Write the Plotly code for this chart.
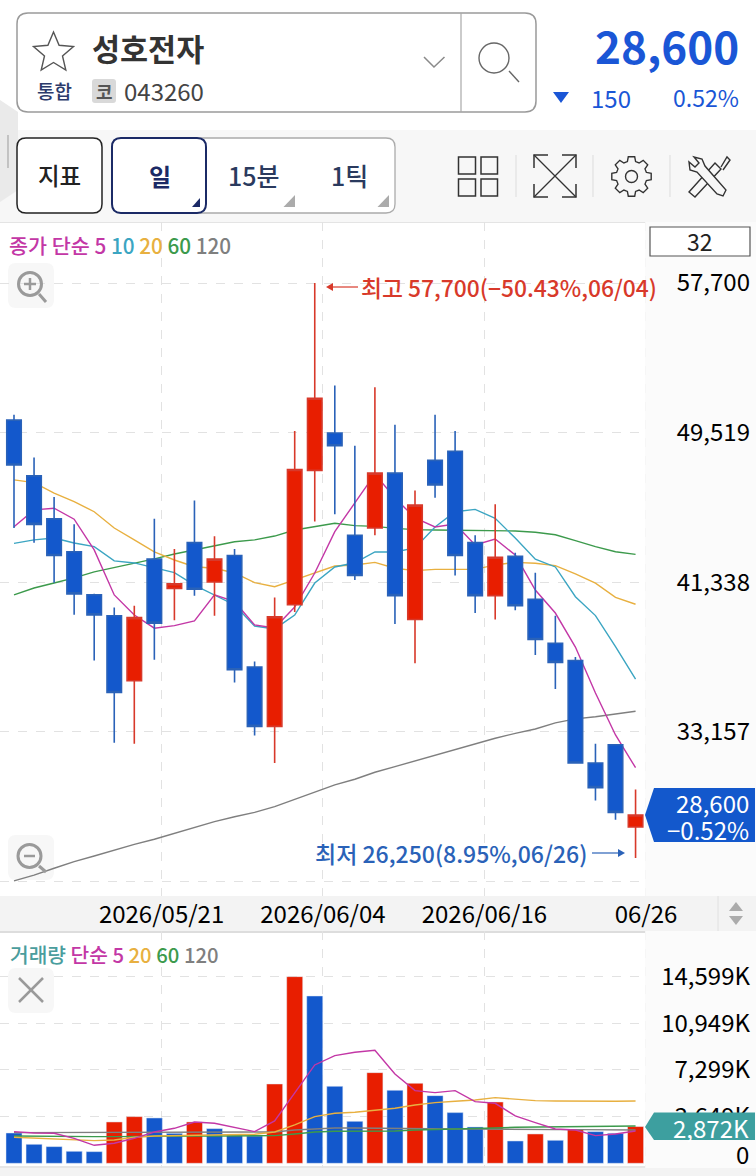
import math
import plotly.graph_objects as go

# --- Data ---
sessions = list(range(32))
open_px = [50200, 47150, 44800, 43000, 40650, 39500, 35950, 42600, 41000, 43500, 41350, 42800, 36700, 33450, 40100, 47450,
           49500, 43900, 44300, 47300, 39300, 48000, 48500, 43500, 40600, 42750, 40400, 38000, 37050, 31450, 32450, 27950]
close_px = [47750, 44500, 42800, 40700, 39550, 35300, 39400, 39100, 41250, 40950, 42600, 36550, 33450, 39450, 47500, 51400,
            48800, 41700, 47300, 40600, 45550, 46650, 42800, 40600, 42700, 40050, 38200, 36950, 31450, 30100, 28750, 28600]
high_px = [50500, 48150, 46000, 44500, 40700, 39950, 40050, 44800, 43150, 45800, 43850, 43150, 37000, 40500, 49600, 57700,
           52100, 48800, 52000, 49950, 46350, 50500, 49600, 43900, 45600, 42950, 41850, 39500, 37250, 32500, 32450, 30000]
low_px = [44300, 43500, 41300, 39550, 37050, 32550, 32500, 37100, 39250, 40600, 39500, 35850, 32950, 31450, 39700, 44650,
          45050, 41450, 43900, 39050, 36900, 45950, 41700, 39650, 39300, 39800, 37350, 35500, 31450, 29400, 28350, 26250]

ma5 = [44370, 45290, 45380, 44780, 43100, 40640, 39540, 38820, 38960, 39220, 40640, 40270, 39000, 38830, 39980, 41840,
       44100, 45670, 47250, 45940, 44850, 44360, 44520, 43370, 43700, 42820, 40910, 39650, 37790, 35280, 32980, 31190]
ma10 = [43460, 43650, 43750, 43480, 43280, 42500, 42390, 42110, 41860, 41180, 40640, 40090, 38940, 38780, 39540, 41290,
        42170, 42400, 42990, 42990, 43210, 44360, 45190, 45320, 44830, 43750, 42590, 42170, 40540, 39510, 37810, 36030]
ma20 = [46930, 46780, 46210, 45740, 45190, 44300, 43650, 43000, 42550, 42180, 42100, 41840, 41310, 41090, 41460, 41840,
        42220, 42280, 42420, 42100, 41970, 42040, 42040, 42040, 42280, 42420, 42370, 42240, 41790, 41280, 40510, 40130]
ma60 = [40640, 41020, 41290, 41570, 41900, 42130, 42390, 42610, 42880, 43100, 43330, 43550, 43650, 43860, 44190, 44370,
        44560, 44430, 44390, 44280, 44210, 44190, 44180, 44180, 44190, 44140, 44070, 43930, 43610, 43280, 43000, 42860]
ma120 = [25000, 25320, 25690, 26050, 26360, 26690, 27000, 27280, 27600, 27930, 28240, 28510, 28750, 29060, 29460, 29820,
         30250, 30560, 30940, 31250, 31560, 31890, 32160, 32470, 32800, 33070, 33310, 33640, 33860, 33980, 34130, 34280]

volume = [2372, 1486, 1304, 939, 912, 3233, 3650, 3546, 2346, 3233, 2711, 2216, 2138, 6205, 14599, 13087,
          6022, 3285, 7091, 5709, 6257, 5292, 3963, 2842, 4797, 1747, 2294, 1799, 2659, 2477, 2346, 2872]
volume_up = [0, 0, 0, 0, 0, 1, 1, 0, 0, 1, 0, 0, 0, 1, 1, 0, 0, 0, 1, 0, 1, 0, 0, 0, 1, 0, 1, 0, 1, 0, 0, 1]
vol_ma5 = [2477, 2372, 2346, 1955, 1408, 1564, 1955, 2451, 2737, 3233, 3128, 2816, 2477, 3311, 5475, 7691,
           8421, 8681, 8838, 6987, 5683, 5527, 5683, 4823, 4693, 3702, 3181, 2685, 2607, 2164, 2294, 2529]
vol_ma20 = [2033, 1955, 1903, 1825, 1773, 1825, 2033, 2138, 2164, 2138, 2190, 2190, 2268, 2451, 2998, 3650,
            3911, 3989, 4171, 4302, 4562, 4745, 4849, 4953, 5136, 5032, 4901, 4875, 4849, 4823, 4849, 4875]
vol_ma60 = [2138, 2112, 2086, 2086, 2086, 2086, 2112, 2112, 2138, 2138, 2138, 2138, 2138, 2164, 2294, 2451,
            2503, 2503, 2503, 2529, 2607, 2633, 2659, 2685, 2763, 2816, 2842, 2868, 2868, 2894, 2894, 2920]
vol_ma120 = [2398, 2398, 2398, 2398, 2398, 2398, 2398, 2398, 2398, 2398, 2398, 2398, 2398, 2451, 2607, 2685,
             2763, 2763, 2737, 2711, 2685, 2685, 2685, 2685, 2659, 2659, 2659, 2633, 2633, 2633, 2607, 2607]

price_ticks = [57700, 49519, 41338, 33157, 24976]
price_tick_labels = ['57,700', '49,519', '41,338', '33,157', '24,976']
vol_ticks = [14599, 10949, 7299, 3649]
vol_tick_labels = ['14,599K', '10,949K', '7,299K', '3,649K']
date_labels = ['2026/05/21', '2026/06/04', '2026/06/16', '06/26']

# --- Style ---
W, H = 756, 1176
FONT = 'Noto Sans CJK KR'
BLUE, RED = '#1358CC', '#E81E00'
WICK_BLUE, WICK_RED = '#2A62B8', '#D8392A'
MAGENTA, CYAN, ORANGE, GREEN, GRAY = '#C337A6', '#3BA5C2', '#E8B040', '#3C9A4C', '#7F7F7F'
GRID = '#E2E2E2'
NAVY = '#1B2A66'
ICON = '#333333'

DATE_TICKS = [7.36, 15.41, 23.46, 31.52]
X_RANGE = [-0.698, 37.007]
PRICE_RANGE = [24174, 61036]
VOL_RANGE = [-368, 18168]

fig = go.Figure()

# --- Price panel: averages first, candles on an overlay axis so they sit on top ---
for name, vals, col in [('120', ma120, GRAY), ('60', ma60, GREEN), ('20', ma20, ORANGE), ('10', ma10, CYAN), ('5', ma5, MAGENTA)]:
    fig.add_trace(go.Scatter(x=sessions, y=vals, mode='lines', name=name,
                             line=dict(color=col, width=1.4), showlegend=False, xaxis='x', yaxis='y'))

fig.add_trace(go.Candlestick(
    x=sessions, open=open_px, high=high_px, low=low_px, close=close_px,
    increasing=dict(line=dict(color=WICK_RED, width=1.6), fillcolor=RED),
    decreasing=dict(line=dict(color=WICK_BLUE, width=1.6), fillcolor=BLUE),
    whiskerwidth=0, showlegend=False, xaxis='x', yaxis='y3'))

# --- Volume panel ---
fig.add_trace(go.Bar(x=sessions, y=volume, width=0.8, marker=dict(color=[RED if u else BLUE for u in volume_up]),
                     showlegend=False, xaxis='x2', yaxis='y2'))
for name, vals, col in [('120', vol_ma120, GRAY), ('60', vol_ma60, GREEN), ('20', vol_ma20, ORANGE), ('5', vol_ma5, MAGENTA)]:
    fig.add_trace(go.Scatter(x=sessions, y=vals, mode='lines', name=name,
                             line=dict(color=col, width=1.4), showlegend=False, xaxis='x2', yaxis='y2'))


# --- UI helpers, all in screen pixels ---
def px(x):
    return x / W


def py(y):
    return 1 - y / H


shapes = []
notes = []


def rect(x0, y0, x1, y1, fill=None, line=None, lw=1, layer='above'):
    shapes.append(dict(type='rect', xref='paper', yref='paper', x0=px(x0), x1=px(x1), y0=py(y0), y1=py(y1),
                       fillcolor=fill, line=dict(color=line, width=lw if line else 0), layer=layer))


def path(d, fill=None, line=None, lw=1, layer='above'):
    out, is_x = [], True
    for tok in d.split():
        if tok.isalpha():
            out.append(tok)
        else:
            out.append(f'{px(float(tok)) if is_x else py(float(tok)):.5f}')
            is_x = not is_x
    shapes.append(dict(type='path', xref='paper', yref='paper', path=' '.join(out),
                       fillcolor=fill, line=dict(color=line, width=lw if line else 0), layer=layer))


def rrect(x0, y0, x1, y1, r, **kw):
    path(f'M {x0 + r} {y0} L {x1 - r} {y0} Q {x1} {y0} {x1} {y0 + r} L {x1} {y1 - r} Q {x1} {y1} {x1 - r} {y1} '
         f'L {x0 + r} {y1} Q {x0} {y1} {x0} {y1 - r} L {x0} {y0 + r} Q {x0} {y0} {x0 + r} {y0} Z', **kw)


def circle(cx, cy, r, line, lw=1.5, fill=None):
    shapes.append(dict(type='circle', xref='paper', yref='paper', x0=px(cx - r), x1=px(cx + r), y0=py(cy + r), y1=py(cy - r),
                       line=dict(color=line, width=lw), fillcolor=fill, layer='above'))


def label(x, y, s, size, color, anchor='left', weight=400):
    notes.append(dict(xref='paper', yref='paper', x=px(x), y=py(y), text=s, showarrow=False, xanchor=anchor, yanchor='middle',
                      font=dict(family=FONT, size=size, color=color, weight=weight), borderpad=0, borderwidth=0))


# panel backgrounds
rect(0, 130, W, 222, fill='#F7F7F7', layer='below')
rect(0, 896, W, 931, fill='#F3F3F3', layer='below')
rect(0, 1168, W, H, fill='#F3F3F3', layer='below')
rect(0, 222, W, 223, fill='#E4E4E4', layer='below')
rect(0, 931, W, 933, fill='#DDDDDD', layer='below')
rect(0, 1166, W, 1168, fill='#E6E6E6', layer='below')

# right margin of both panels hides the grid but not the traces
shapes.append(dict(type='rect', xref='x', yref='y', x0=DATE_TICKS[3] - 0.04, x1=X_RANGE[1], y0=PRICE_RANGE[0], y1=PRICE_RANGE[1],
                   fillcolor='#FBFBFB', line=dict(width=0), layer='between'))
shapes.append(dict(type='rect', xref='x2', yref='y2', x0=DATE_TICKS[3] - 0.04, x1=X_RANGE[1], y0=VOL_RANGE[0], y1=VOL_RANGE[1],
                   fillcolor='#FBFBFB', line=dict(width=0), layer='between'))

# left drawer handle
path('M 0 100 L 18 112 L 18 190 L 0 202 Z', fill='#EAEAEA')
path('M 8 135 L 8 168', line='#B5B5B5', lw=1.5)

# search box
rrect(17, 13, 536, 112, 11, line='#9A9A9A', lw=1.5, fill='#FFFFFF')
path('M 461 13 L 461 112', line='#A8A8A8', lw=1.2)
star = []
for i in range(10):
    rad = 21 if i % 2 == 0 else 9.5
    a = -math.pi / 2 + i * math.pi / 5
    star.append(f'{"M" if i == 0 else "L"} {53.5 + rad * math.cos(a):.1f} {53 + rad * math.sin(a):.1f}')
path(' '.join(star) + ' Z', line='#555555', lw=1.4)
label(92, 48, '성호전자', 30.5, '#333333', weight=700)
label(37, 90, '통합', 19, '#2B3A6B', weight=500)
rrect(92, 79, 116, 103, 3, fill='#D9D9D9')
label(104, 91, '코', 18, '#555555', anchor='center', weight=700)
label(124, 91, '043260', 24, '#444444')
path('M 424 57 L 434 67 L 444.5 57', line='#8A8A8A', lw=1.5)
circle(494, 58, 15, '#666666', 1.4)
path('M 509 71 L 519 82', line='#666666', lw=1.4)

# quote
label(739, 45, '28,600', 44, '#1A56D6', anchor='right', weight=700)
path('M 553 92 L 569 92 L 561 103 Z', fill='#1A56D6')
label(631, 97, '150', 24, '#1A56D6', anchor='right')
label(739, 97, '0.52%', 23, '#1A56D6', anchor='right')

# toolbar buttons
rrect(17, 138, 102, 213, 9, line='#222222', lw=1.5, fill='#FFFFFF')
label(59.5, 175, '지표', 23.5, '#222222', anchor='center', weight=500)
rrect(112, 138, 395, 213, 9, line='#ABABAB', lw=1.3, fill='#FFFFFF')
rrect(112, 138, 206, 213, 9, line=NAVY, lw=2, fill='#FFFFFF')
label(160, 175, '일', 24, NAVY, anchor='center', weight=700)
label(254, 175, '15분', 25, '#2A3A5E', anchor='center', weight=500)
label(349, 175, '1틱', 25, '#2A3A5E', anchor='center', weight=500)
path('M 200 198 L 200 207 L 192 207 Z', fill=NAVY)
path('M 295 195 L 295 207 L 283.5 207 Z', fill='#ABABAB')
path('M 389 195 L 389 207 L 377.5 207 Z', fill='#ABABAB')

# toolbar icons
for x0, x1 in [(458.5, 475.5), (481, 497.5)]:
    for y0, y1 in [(157, 174), (179, 196)]:
        rect(x0, y0, x1, y1, line=ICON, lw=1.5)
for x in [516, 593, 670]:
    path(f'M {x} 155 L {x} 197', line='#DDDDDD', lw=1)
path('M 534 155 L 576 197 M 576 155 L 534 197', line=ICON, lw=1.3)
path('M 534 168 L 534 155 L 548 155 M 562 155 L 576 155 L 576 168 M 576 184 L 576 197 L 562 197 M 548 197 L 534 197 L 534 184',
     line=ICON, lw=1.5)
gear = []
for i in range(8):
    a = i * math.pi / 4
    for off, rad in [(-0.27, 15.5), (-0.16, 20), (0.16, 20), (0.27, 15.5)]:
        gear.append((631.5 + rad * math.cos(a + off), 176.5 + rad * math.sin(a + off)))
path('M ' + ' L '.join(f'{x:.1f} {y:.1f}' for x, y in gear) + ' Z', line=ICON, lw=1.4)
circle(631.5, 176.5, 6, ICON, 1.4)
path('M 689 192 L 715 163 L 721 169 L 695 197 Z', line=ICON, lw=1.4)
path('M 721 167 L 727 157 L 730 160 L 723 170', line=ICON, lw=1.4)
path('M 726 190 L 723 196 L 717 194 L 697 172 L 690 170 L 689 162 L 695 167 L 699 163 L 694 157 L 702 159 L 705 166 Z',
     line=ICON, lw=1.4, fill='#F7F7F7')

# price panel legend and extreme labels
label(9, 245, f'<span style="color:{MAGENTA}">종가 단순 5 </span><span style="color:{CYAN}">10 </span>'
              f'<span style="color:{ORANGE}">20 </span><span style="color:{GREEN}">60 </span>'
              f'<span style="color:{GRAY}">120</span>', 20.7, MAGENTA, weight=500)
rect(650, 227, 750, 256, fill='#FFFFFF', line='#555555', lw=1.2)
label(700, 241, '32', 23, '#222222', anchor='center')
path('M 358 287 L 328 287', line=WICK_RED, lw=1.2)
path('M 326 287 L 333 283 L 333 291 Z', fill=WICK_RED)
label(361, 287, '최고 57,700(−50.43%,06/04)', 22.8, '#D8392A', weight=500)
label(587, 853, '최저 26,250(8.95%,06/26)', 23, '#2A62B8', anchor='right', weight=500)
path('M 592 853 L 623 853', line=WICK_BLUE, lw=1.2)
path('M 625 853 L 618 849 L 618 857 Z', fill=WICK_BLUE)

# zoom buttons, the averages run over them
rrect(8, 263, 54, 308, 8, fill='#F7F7F7', layer='below')
circle(30, 284, 11.5, '#9A9A9A', 3)
path('M 24 284 L 36 284 M 30 278 L 30 290', line='#9A9A9A', lw=2.5)
path('M 39 294 L 46 302', line='#9A9A9A', lw=3)
rrect(8, 835, 54, 880, 8, fill='#F7F7F7', layer='below')
circle(29.5, 856, 11.5, '#9A9A9A', 3)
path('M 24 856 L 35 856', line='#9A9A9A', lw=2.5)
path('M 39 866 L 46 872', line='#9A9A9A', lw=3)

# last price tag
path('M 645 815 L 654 788 L 755 788 L 755 842 L 654 842 Z', fill=BLUE)
label(749, 802, '28,600', 24, '#FFFFFF', anchor='right')
label(749, 829, '−0.52%', 24, '#FFFFFF', anchor='right')

# scroll arrows in the date band
path('M 718 896 L 718 931', line='#E0E0E0', lw=1)
path('M 736 902 L 743 911 L 729 911 Z', fill='#ABABAB')
path('M 729 916 L 743 916 L 736 925 Z', fill='#ABABAB')

# volume panel
label(10, 954, f'<span style="color:#4A9D9D">거래량 </span><span style="color:{MAGENTA}">단순 5 </span>'
               f'<span style="color:{ORANGE}">20 </span><span style="color:{GREEN}">60 </span>'
               f'<span style="color:{GRAY}">120</span>', 20.3, MAGENTA, weight=500)
rrect(8, 968, 54, 1013, 8, fill='#F7F7F7')
path('M 19 978 L 43 1002 M 43 978 L 19 1002', line='#9A9A9A', lw=2.5)
path('M 645 1127 L 654 1112.5 L 755 1112.5 L 755 1140 L 654 1140 Z', fill='#3D9F9F')
label(749, 1127, '2,872K', 24, '#FFFFFF', anchor='right')
label(749, 1153, '0', 24, '#000000', anchor='right')

# --- Layout ---
tick_font = dict(family=FONT, size=24, color='#000000')
axis_common = dict(range=X_RANGE, tickvals=DATE_TICKS, showgrid=True, gridcolor=GRID, griddash='dash', gridwidth=1,
                   zeroline=False, showline=False, ticks='', fixedrange=True)
y_common = dict(side='right', ticklabelposition='inside', tickfont=tick_font, ticklabelstandoff=3, showgrid=True, gridcolor=GRID,
                griddash='dash', gridwidth=1, zeroline=False, showline=False, ticks='', fixedrange=True)

fig.update_layout(
    width=W, height=H,
    margin=dict(l=0, r=0, t=0, b=0),
    paper_bgcolor='white', plot_bgcolor='rgba(0,0,0,0)',
    showlegend=False, hovermode=False, barmode='overlay', boxgap=0.15, boxgroupgap=0.15,
    font=dict(family=FONT),
    xaxis=dict(domain=[0, 1], anchor='y', ticktext=date_labels, showticklabels=True, rangeslider=dict(visible=False),
               tickfont=tick_font, ticklabelstandoff=2, **axis_common),
    yaxis=dict(domain=[py(896), py(222)], anchor='x', range=PRICE_RANGE, tickvals=price_ticks, ticktext=price_tick_labels, **y_common),
    yaxis3=dict(overlaying='y', range=PRICE_RANGE, visible=False, side='right', fixedrange=True),
    xaxis2=dict(domain=[0, 1], anchor='y2', showticklabels=False, **axis_common),
    yaxis2=dict(domain=[py(1168), py(931)], anchor='x2', range=VOL_RANGE, tickvals=vol_ticks, ticktext=vol_tick_labels, **y_common),
    shapes=shapes,
    annotations=notes,
)

# page margin off so the figure fills the browser window
fig.write_html('out.html', config=dict(displayModeBar=False), post_script="document.body.style.margin='0';")
